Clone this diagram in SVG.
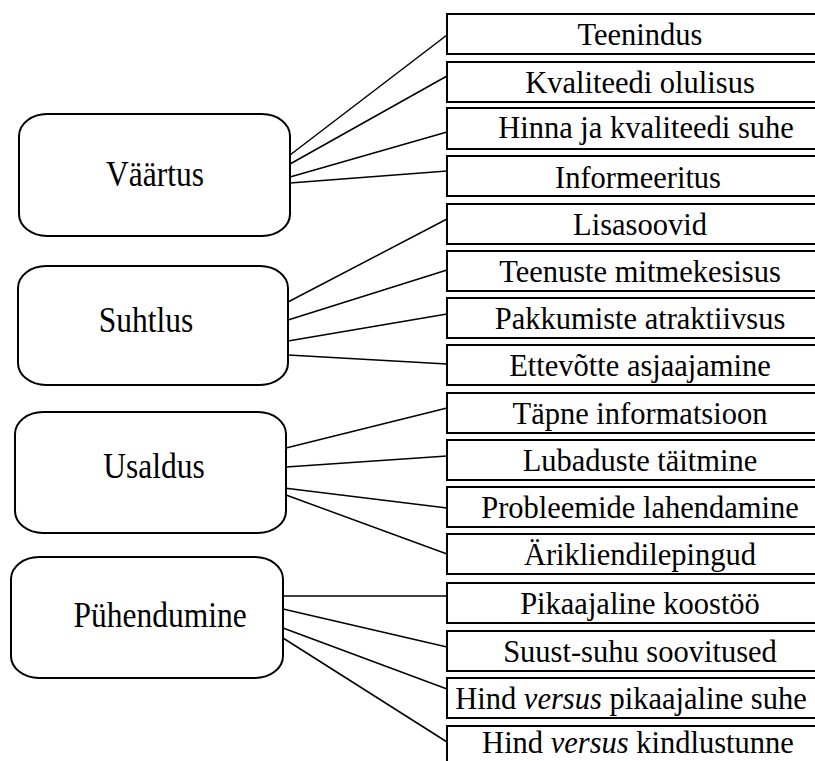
<svg xmlns="http://www.w3.org/2000/svg" width="815" height="761" viewBox="0 0 815 761">
<style>
.main rect{fill:#fff;stroke:#000;stroke-width:2}
.item rect{fill:#fff;stroke:#000;stroke-width:2}
text{font-family:"Liberation Serif","Times New Roman",serif;fill:#000}
.lbl{font-size:30.5px;text-anchor:middle}
.mlbl{font-size:31.5px;text-anchor:middle}
#connectors line{stroke:#000;stroke-width:1.5}
</style>
<rect width="815" height="761" fill="#fff"/>
<g id="connectors">
<line x1="290" y1="155" x2="447" y2="35"/>
<line x1="290" y1="164" x2="447" y2="76"/>
<line x1="290" y1="177" x2="447" y2="132"/>
<line x1="290" y1="183" x2="447" y2="171"/>
<line x1="288" y1="302" x2="447" y2="219"/>
<line x1="288" y1="320" x2="447" y2="270"/>
<line x1="288" y1="341" x2="447" y2="314"/>
<line x1="288" y1="355" x2="447" y2="364"/>
<line x1="286" y1="448" x2="447" y2="408"/>
<line x1="286" y1="467" x2="447" y2="456"/>
<line x1="284" y1="488" x2="447" y2="508"/>
<line x1="286" y1="495" x2="447" y2="554"/>
<line x1="283" y1="596" x2="447" y2="596"/>
<line x1="283" y1="609" x2="447" y2="647"/>
<line x1="283" y1="628" x2="447" y2="689"/>
<line x1="283" y1="638" x2="447" y2="742"/>
</g>
<g id="vaartus" class="main"><rect x="19" y="114" width="271" height="122" rx="28" ry="22"/><text class="mlbl" transform="translate(155,186) scale(1,1.12)">Väärtus</text></g>
<g id="suhtlus" class="main"><rect x="18" y="266" width="270" height="119" rx="28" ry="22"/><text class="mlbl" transform="translate(146,332) scale(1,1.12)">Suhtlus</text></g>
<g id="usaldus" class="main"><rect x="15" y="412" width="271" height="121" rx="28" ry="22"/><text class="mlbl" transform="translate(154,478) scale(1,1.12)">Usaldus</text></g>
<g id="puhendumine" class="main"><rect x="11" y="557" width="272" height="121" rx="28" ry="22"/><text class="mlbl" transform="translate(160,627) scale(1,1.12)">Pühendumine</text></g>
<g id="i1" class="item"><rect x="447" y="14" width="400" height="40"/><text class="lbl" x="640" y="45">Teenindus</text></g>
<g id="i2" class="item"><rect x="447" y="62" width="400" height="40"/><text class="lbl" x="640" y="93">Kvaliteedi olulisus</text></g>
<g id="i3" class="item"><rect x="447" y="108" width="400" height="41"/><text class="lbl" x="646" y="138">Hinna ja kvaliteedi suhe</text></g>
<g id="i4" class="item"><rect x="447" y="156" width="400" height="40"/><text class="lbl" x="638" y="188">Informeeritus</text></g>
<g id="i5" class="item"><rect x="447" y="204" width="400" height="40"/><text class="lbl" x="640" y="235">Lisasoovid</text></g>
<g id="i6" class="item"><rect x="447" y="251" width="400" height="40"/><text class="lbl" x="640" y="282">Teenuste mitmekesisus</text></g>
<g id="i7" class="item"><rect x="447" y="298" width="400" height="40"/><text class="lbl" x="640" y="329">Pakkumiste atraktiivsus</text></g>
<g id="i8" class="item"><rect x="447" y="345" width="400" height="40"/><text class="lbl" x="640" y="376">Ettevõtte asjaajamine</text></g>
<g id="i9" class="item"><rect x="447" y="393" width="400" height="40"/><text class="lbl" x="640" y="424">Täpne informatsioon</text></g>
<g id="i10" class="item"><rect x="447" y="440" width="400" height="40"/><text class="lbl" x="640" y="471">Lubaduste täitmine</text></g>
<g id="i11" class="item"><rect x="447" y="487" width="400" height="40"/><text class="lbl" x="640" y="518">Probleemide lahendamine</text></g>
<g id="i12" class="item"><rect x="447" y="534" width="400" height="40"/><text class="lbl" x="640" y="565">Ärikliendilepingud</text></g>
<g id="i13" class="item"><rect x="447" y="583" width="400" height="40"/><text class="lbl" x="640" y="614">Pikaajaline koostöö</text></g>
<g id="i14" class="item"><rect x="447" y="631" width="400" height="40"/><text class="lbl" x="640" y="662">Suust-suhu soovitused</text></g>
<g id="i15" class="item"><rect x="447" y="678" width="400" height="40"/><text class="lbl" x="631" y="709">Hind <tspan font-style="italic">versus</tspan> pikaajaline suhe</text></g>
<g id="i16" class="item"><rect x="447" y="726" width="400" height="40"/><text class="lbl" x="638" y="753">Hind <tspan font-style="italic">versus</tspan> kindlustunne</text></g>
</svg>
